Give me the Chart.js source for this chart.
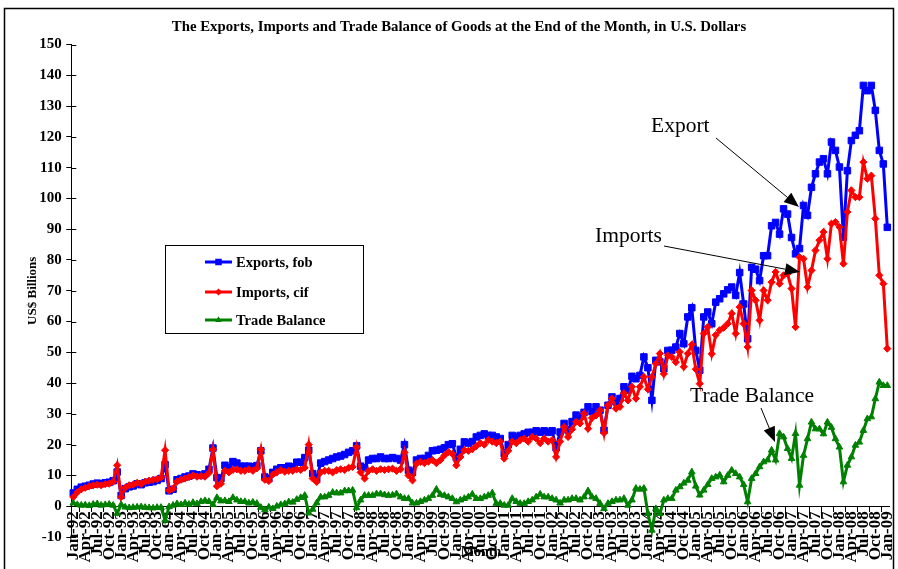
<!DOCTYPE html>
<html>
<head>
<meta charset="utf-8">
<script src="https://cdn.jsdelivr.net/npm/chart.js@4/dist/chart.umd.min.js"></script>
<style>
  html, body { margin: 0; padding: 0; background: #fff; overflow: hidden; }
  canvas { display: block; }
</style>
</head>
<body>
<canvas id="tradeChart" width="898" height="569"></canvas>
<script>
// month categories, Jan-92 .. Jan-09
const monthNames = ["Jan", "Feb", "Mar", "Apr", "May", "Jun", "Jul", "Aug", "Sep", "Oct", "Nov", "Dec"];
const months = [];
for (let yr = 1992; yr <= 2009; yr++) {
  for (let m = 0; m < 12 && months.length < 205; m++) {
    months.push(monthNames[m] + "-" + String(yr % 100).padStart(2, "0"));
  }
}

// US$ billions
const exportsFob = [
  4.3, 5.5, 6.2, 6.5, 6.8, 7.2, 7.5, 7.3, 7.6, 7.8, 8.3, 11.1,
  3.5, 5.7, 6.3, 6.6, 7.3, 7.0, 7.6, 7.8, 8.0, 8.4, 9.0, 13.5,
  5.0, 5.5, 8.6, 9.0, 9.5, 9.8, 10.5, 10.2, 10.0, 10.5, 12.0, 18.9,
  9.3, 9.0, 13.3, 12.5, 14.5, 14.0, 13.0, 13.0, 13.0, 12.8, 13.2, 18.0,
  9.5, 9.0, 11.0, 12.0, 12.5, 12.5, 13.0, 12.8, 14.3, 14.3, 15.8, 18.2,
  10.6, 9.0, 14.0, 14.5, 15.0, 15.5, 16.0, 16.3, 16.8, 17.5, 18.0, 19.6,
  13.0, 12.5, 15.0, 15.5, 15.5, 16.0, 15.5, 15.5, 15.8, 15.5, 15.0, 20.0,
  11.7, 11.0, 15.0, 15.5, 15.5, 16.5, 18.0, 18.2, 18.5, 19.0, 20.0, 20.3,
  15.8, 18.5, 20.9, 20.5, 21.0, 22.5, 23.0, 23.5, 23.0, 23.0, 22.5, 22.0,
  17.1, 20.0, 23.0, 22.5, 23.0, 23.5, 24.0, 24.0, 24.5, 24.0, 24.5, 24.0,
  24.5, 19.0, 24.1, 26.9, 24.7, 27.5, 29.6, 29.1, 30.5, 32.3, 30.7, 32.3,
  31.2, 24.7, 32.8, 35.5, 33.9, 35.0, 38.8, 37.7, 42.2, 41.4, 42.5, 48.5,
  45.0, 34.4, 47.4, 46.9, 44.7, 50.6, 50.7, 51.7, 56.1, 52.8, 61.5, 64.5,
  50.6, 44.2, 61.5, 63.1, 59.3, 66.3, 67.4, 69.0, 70.3, 71.2, 68.5, 75.9,
  65.7, 54.4, 77.6, 77.0, 73.3, 81.4, 81.4, 91.1, 92.2, 88.4, 96.6, 94.9,
  87.3, 82.0, 83.7, 97.7, 94.5, 103.6, 108.0, 111.8, 112.9, 108.0, 118.3, 115.6,
  110.2, 87.4, 109.0, 118.8, 120.5, 122.0, 136.7, 135.0, 136.7, 128.6, 115.6, 111.2,
  90.6
];

const importsCif = [
  3.0, 4.5, 5.5, 6.0, 6.5, 6.8, 7.0, 6.8, 7.2, 7.3, 8.0, 13.3,
  3.0, 6.0, 6.8, 7.0, 7.6, 7.2, 8.0, 8.3, 8.6, 8.8, 9.4, 18.2,
  5.2, 5.7, 8.0, 8.6, 9.0, 9.5, 10.0, 9.6, 9.8, 9.6, 10.8, 18.4,
  6.5, 7.3, 11.5, 11.0, 11.8, 12.0, 11.5, 11.5, 12.0, 11.5, 12.3, 18.4,
  8.6, 8.2, 10.3, 11.0, 11.7, 11.2, 11.5, 11.5, 12.0, 11.8, 12.5, 20.0,
  9.0, 7.9, 11.0, 11.5, 11.5, 11.0, 11.7, 12.0, 11.8, 12.5, 12.8, 19.2,
  11.0, 9.0, 11.5, 12.0, 11.5, 12.0, 11.8, 12.0, 12.2, 11.5, 12.0, 17.5,
  10.0, 8.4, 13.8, 14.4, 14.0, 14.5, 15.0, 14.0, 15.0, 16.5, 17.6, 17.0,
  13.3, 16.0, 18.2, 18.0, 18.5, 19.5, 20.5, 20.0, 21.5, 21.0, 20.5, 21.0,
  15.5, 18.0, 21.0, 20.5, 21.5, 22.0, 21.0, 22.5, 22.0, 20.5, 22.0, 21.0,
  21.5, 16.0, 21.0, 25.7, 22.5, 25.0, 27.4, 26.9, 30.1, 25.2, 28.7, 29.5,
  31.2, 23.8, 32.8, 35.0, 31.7, 32.3, 36.7, 34.4, 38.8, 35.0, 38.8, 42.0,
  38.0, 42.0, 46.3, 49.6, 43.0, 49.0, 48.5, 46.8, 50.1, 45.3, 49.6, 52.5,
  44.5, 39.8, 56.1, 58.2, 49.5, 55.6, 57.2, 58.0, 59.3, 62.6, 56.1, 64.7,
  59.3, 51.7, 70.1, 66.9, 60.4, 70.1, 66.9, 72.8, 76.1, 72.3, 75.0, 75.5,
  70.7, 58.2, 80.9, 80.4, 71.2, 76.6, 83.1, 86.4, 89.1, 80.4, 91.8, 92.3,
  90.7, 78.8, 95.6, 102.6, 100.4, 100.4, 111.8, 106.4, 107.4, 93.4, 75.0, 72.3,
  51.2
];

const tradeBalance = [
  1.0, 0.5, 0.3, 0.4, 0.2, 0.6, 0.8, 0.3, 0.5, 0.6, 0.3, -2.3,
  0.5, -0.3, -0.5, -0.4, -0.3, -0.2, -0.4, -0.5, -0.6, -0.4, -0.4, -4.5,
  -0.2, 0.3, 0.8, 0.5, 1.0, 0.6, 1.2, 0.8, 1.5, 1.8, 1.5, 0.5,
  2.8, 1.7, 1.8, 1.5, 2.8, 2.0, 1.5, 1.5, 1.0, 1.3, 0.9, -0.4,
  -1.2, -0.3, -0.8, 0.0, 0.5, 0.8, 1.4, 1.3, 2.2, 2.8, 3.5, -2.2,
  -1.0, 1.1, 3.0, 3.0, 3.5, 4.5, 4.3, 4.3, 5.0, 5.0, 5.2, -0.5,
  2.0, 3.5, 3.5, 3.5, 4.0, 4.0, 3.7, 3.5, 3.6, 4.0, 3.0, 2.5,
  2.5, 1.0, 1.0, 1.5, 2.0, 2.5, 3.5, 5.5, 3.8, 3.5, 3.0, 2.5,
  1.4, 2.0, 2.5, 3.0, 3.9, 2.5, 2.5, 3.0, 3.5, 4.3, 0.9, 0.9,
  0.3, 0.3, 2.5, 1.5, 0.9, 0.9, 1.5, 2.0, 3.0, 3.9, 3.0, 3.0,
  2.5, 2.0, 1.0, 2.0, 2.0, 2.5, 2.5, 2.0, 3.0, 5.0, 3.0, 2.5,
  0.9, -0.8, 0.9, 1.5, 2.0, 2.0, 2.5, 0.3, 2.0, 5.8, 5.5, 5.8,
  -2.4, -7.8, -0.8, -2.4, 2.0, 2.5, 2.5, 5.2, 6.3, 7.5, 8.4, 11.1,
  6.5, 3.6, 5.2, 7.0, 9.0, 9.5, 10.1, 7.9, 10.0, 11.7, 10.6, 9.5,
  7.0, 1.4, 9.0, 10.6, 12.8, 14.4, 15.0, 18.2, 15.0, 23.6, 22.5, 18.7,
  15.5, 23.6, 6.8, 16.5, 21.9, 27.3, 25.1, 25.1, 23.5, 27.3, 25.6, 21.9,
  19.2, 7.9, 13.3, 16.0, 19.8, 20.8, 24.6, 28.4, 29.0, 34.9, 40.3, 39.2,
  39.2
];

const yTicksMin = -10;
const yTicksMax = 150;

const chartTitle = "The Exports, Imports and Trade Balance of Goods at the End of the Month, in U.S. Dollars";

// callout texts and arrows (canvas pixels)
const callouts = [
  { text: "Export", x: 651, y: 126, from: [716, 138], to: [799, 207] },
  { text: "Imports", x: 595, y: 236, from: [664, 246], to: [800, 272] },
  { text: "Trade Balance", x: 690, y: 396, from: [761, 408], to: [775, 442] },
];

const serif = '"Liberation Serif", "Times New Roman", serif';

function drawMarker(c, style, x, y, r) {
  c.beginPath();
  if (style === "rect") {
    c.rect(x - r * 0.707, y - r * 0.707, r * 1.414, r * 1.414);
  } else if (style === "rectRot") {
    c.moveTo(x, y - r); c.lineTo(x + r, y); c.lineTo(x, y + r); c.lineTo(x - r, y);
  } else {
    c.moveTo(x, y - r); c.lineTo(x + r * 0.866, y + r * 0.5); c.lineTo(x - r * 0.866, y + r * 0.5);
  }
  c.closePath();
  c.fill();
}

function drawArrow(c, from, to) {
  const ang = Math.atan2(to[1] - from[1], to[0] - from[0]);
  const len = 15, half = 6;
  const bx = to[0] - Math.cos(ang) * len, by = to[1] - Math.sin(ang) * len;
  c.beginPath();
  c.moveTo(from[0], from[1]);
  c.lineTo(bx, by);
  c.stroke();
  c.beginPath();
  c.moveTo(to[0], to[1]);
  c.lineTo(bx + Math.sin(ang) * half, by - Math.cos(ang) * half);
  c.lineTo(bx - Math.sin(ang) * half, by + Math.cos(ang) * half);
  c.closePath();
  c.fill();
}

const extras = {
  id: "extras",
  beforeDraw(chart) {
    const c = chart.ctx;
    c.save();
    c.fillStyle = "#000";
    c.textAlign = "center";
    c.textBaseline = "middle";
    c.font = "bold 14.8px " + serif;
    c.fillText(chartTitle, 459, 27);
    c.font = "bold 14px " + serif;
    c.fillText("Month", 481, 552);
    c.restore();
  },
  afterDraw(chart) {
    const c = chart.ctx;
    const yScale = chart.scales.y;
    c.save();
    // inner half of the crossing y ticks
    c.strokeStyle = "#000";
    c.lineWidth = 1;
    yScale.ticks.forEach((t) => {
      const py = Math.round(yScale.getPixelForValue(t.value)) + 0.5;
      c.beginPath();
      c.moveTo(chart.chartArea.left, py);
      c.lineTo(chart.chartArea.left + 5, py);
      c.stroke();
    });

    // outer frame
    c.lineWidth = 1.5;
    c.strokeRect(4.5, 8.5, 889, 620);

    // legend box
    c.lineWidth = 1;
    c.fillStyle = "#fff";
    c.fillRect(165.5, 245.5, 198, 88);
    c.strokeRect(165.5, 245.5, 198, 88);
    const rowY = [262, 292, 320];
    chart.data.datasets.forEach((ds, i) => {
      const y = rowY[i];
      c.strokeStyle = ds.borderColor;
      c.fillStyle = ds.borderColor;
      c.lineWidth = 3;
      c.beginPath();
      c.moveTo(205, y);
      c.lineTo(232, y);
      c.stroke();
      drawMarker(c, ds.pointStyle, 218.5, y, ds.pointRadius);
      c.fillStyle = "#000";
      c.font = "bold 14.5px " + serif;
      c.textAlign = "left";
      c.textBaseline = "middle";
      c.fillText(ds.label, 236, y + 1);
    });

    // callouts
    c.fillStyle = "#000";
    c.strokeStyle = "#000";
    c.lineWidth = 1;
    c.font = "21.5px " + serif;
    c.textAlign = "left";
    c.textBaseline = "middle";
    callouts.forEach((n) => {
      c.fillText(n.text, n.x, n.y);
      drawArrow(c, n.from, n.to);
    });
    c.restore();
  },
};

const ctx = document.getElementById("tradeChart");
const tradeChart = new Chart(ctx, {
  type: "line",
  data: {
    labels: months,
    datasets: [
      {
        label: "Exports, fob",
        data: exportsFob,
        borderColor: "#0000FF",
        backgroundColor: "#0000FF",
        pointBackgroundColor: "#0000FF",
        pointStyle: "rect",
        pointRadius: 4.6,
        borderWidth: 3,
        pointBorderWidth: 1,
        tension: 0,
        order: 3,
      },
      {
        label: "Imports, cif",
        data: importsCif,
        borderColor: "#FF0000",
        backgroundColor: "#FF0000",
        pointBackgroundColor: "#FF0000",
        pointStyle: "rectRot",
        pointRadius: 3.6,
        borderWidth: 3,
        pointBorderWidth: 1,
        tension: 0,
        order: 2,
      },
      {
        label: "Trade Balance",
        data: tradeBalance,
        borderColor: "#008000",
        backgroundColor: "#008000",
        pointBackgroundColor: "#008000",
        pointStyle: "triangle",
        pointRadius: 3.8,
        borderWidth: 3,
        pointBorderWidth: 1,
        tension: 0,
        order: 1,
      },
    ],
  },
  options: {
    responsive: false,
    animation: false,
    events: [],
    layout: { padding: { left: 0, right: 8.7, top: 44.5, bottom: 32 } },
    plugins: {
      legend: { display: false },
      tooltip: { enabled: false },
      title: { display: false },
    },
    scales: {
      x: {
        type: "category",
        offset: true,
        position: { y: 0 },
        grid: { drawOnChartArea: false, drawTicks: true, tickLength: 5, color: "#000", offset: true },
        border: { display: true, color: "#000", width: 1 },
        ticks: {
          autoSkip: false,
          minRotation: 90,
          maxRotation: 90,
          padding: 0,
          color: "#000",
          font: { family: serif, size: 17, weight: "bold" },
          callback: (value, index) => (index % 3 === 0 ? months[index] : null),
        },
        afterFit: (scale) => {
          scale.paddingLeft = 0;
          scale.paddingRight = 0;
        },
      },
      y: {
        min: yTicksMin,
        max: yTicksMax,
        grid: { drawOnChartArea: false, drawTicks: true, tickLength: 5, color: "#000" },
        border: { display: true, color: "#000", width: 1 },
        ticks: {
          stepSize: 10,
          padding: 4.6,
          color: "#000",
          font: { family: serif, size: 15, weight: "bold" },
        },
        title: {
          display: true,
          text: "US$ Billions",
          color: "#000",
          font: { family: serif, size: 13, weight: "bold" },
          padding: { top: 25, bottom: 0 },
        },
        afterFit: (scale) => {
          scale.width = 71.3;
        },
      },
    },
  },
  plugins: [extras],
});
</script>
</body>
</html>
